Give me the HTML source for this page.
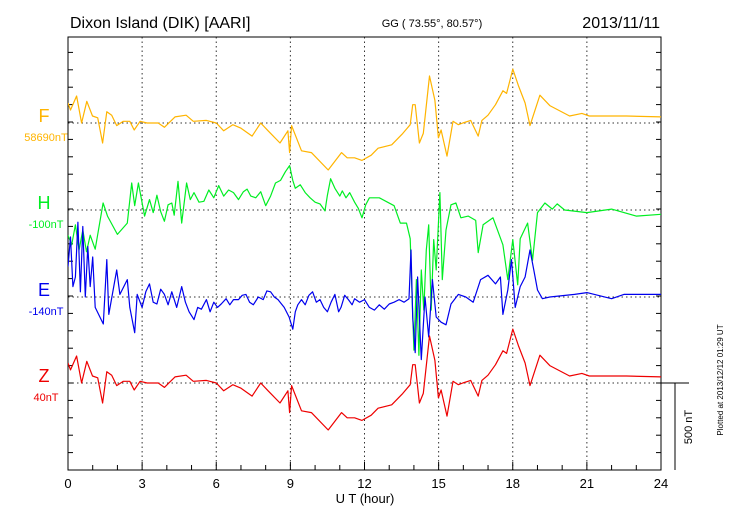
<!DOCTYPE html>
<html><head><meta charset="utf-8"><style>
html,body{margin:0;padding:0;background:#fff;}
svg{display:block;font-family:"Liberation Sans",sans-serif;}
</style></head><body>
<svg id="chart" width="730" height="520" viewBox="0 0 730 520" xmlns="http://www.w3.org/2000/svg">
<text x="70" y="28" font-size="16">Dixon Island (DIK)  [AARI]</text>
<text x="432" y="27" font-size="11" text-anchor="middle">GG ( 73.55°,  80.57°)</text>
<text x="660" y="28" font-size="16" text-anchor="end">2013/11/11</text>
<g id="grid"></g>
<g id="axes"></g>
<g id="series" clip-path="url(#clip)"></g>
<defs><clipPath id="clip"><rect x="68" y="37" width="593" height="433"/></clipPath></defs>
<g id="labels"></g>
<text x="365" y="503" font-size="13" text-anchor="middle">U T (hour)</text>
<text transform="translate(692,427) rotate(-90)" font-size="11" text-anchor="middle">500 nT</text>
<text transform="translate(723,380) rotate(-90)" font-size="8" text-anchor="middle">Plotted at 2013/12/12 01:29 UT</text>
</svg>
<script>
const xTicks = [0,3,6,9,12,15,18,21,24];
const componentNames = ["F","H","E","Z"];
const baselineLabels = ["58690nT","-100nT","-140nT","40nT"];
const scaleBarNT = 500;

const zHours = [0,0.1,0.35,0.55,0.76,0.99,1.2,1.4,1.57,1.77,1.97,2.24,2.5,2.68,2.92,3.2,3.65,3.9,4.33,4.78,5.07,5.6,6.0,6.3,6.67,7.0,7.45,7.8,8.1,8.58,8.9,8.97,9.05,9.45,9.85,10.53,11.07,11.3,11.6,11.9,12.27,12.55,13.1,13.55,13.85,13.95,14.05,14.22,14.38,14.63,14.85,14.99,15.1,15.34,15.58,15.8,15.98,16.3,16.6,16.75,17.0,17.3,17.6,17.75,18.0,18.23,18.5,18.7,19.1,19.5,20.3,20.8,21.1,22.6,24];
const zValues = [115,75,155,0,125,40,30,-115,65,45,-15,10,10,-40,10,0,0,-25,35,45,10,15,0,-45,-10,-30,-75,0,-45,-115,-45,-170,-15,-160,-170,-270,-170,-200,-200,-215,-185,-145,-125,-60,-10,105,105,-115,-60,270,130,-85,-40,-190,10,-10,0,15,-75,15,45,105,185,170,310,215,115,-15,160,100,40,55,40,40,35];
const fHours = zHours.slice();
const fValues = [115,75,155,0,125,40,30,-115,65,45,-15,10,10,-40,10,0,0,-25,35,45,10,15,0,-45,-10,-30,-75,0,-45,-115,-45,-170,-15,-160,-170,-270,-170,-200,-200,-215,-185,-145,-125,-60,-10,105,105,-115,-60,270,130,-85,-40,-190,10,-10,0,15,-75,15,45,105,185,170,310,215,115,-15,160,100,40,55,40,40,35];
const hHours = [0,0.15,0.3,0.45,0.6,0.75,0.9,1.1,1.42,1.6,2.0,2.4,2.58,2.7,2.85,
3.1,3.3,3.45,3.6,3.75,3.9,4.05,4.2,4.3,4.45,4.6,4.8,4.95,5.1,5.3,5.5,5.7,5.9,6.1,6.3,6.5,6.7,6.9,7.1,7.25,7.4,7.6,7.8,8.0,8.2,8.4,8.6,8.8,8.97,9.1,9.2,9.4,9.6,9.8,10.0,10.2,10.4,10.5,10.63,10.8,11.0,11.1,11.25,11.4,11.6,11.75,11.9,12.05,12.2,
12.6,13.2,13.45,13.7,13.85,14.0,14.1,14.2,14.3,14.4,14.5,14.6,14.7,14.8,14.9,15.05,15.15,15.3,15.5,15.7,15.9,16.2,16.5,16.6,16.8,17.2,17.6,17.8,18.0,18.2,18.3,18.6,18.8,19.0,19.3,19.6,19.8,20.1,21,22,23,24];
const hValues = [-145,-200,-85,-230,-115,-240,-145,-225,40,-35,-140,-75,155,25,155,
-35,60,-15,85,-10,-65,30,40,-30,165,-75,155,60,100,45,50,115,70,140,80,115,100,60,105,120,80,70,105,25,80,155,170,220,255,170,125,145,100,70,45,35,-5,85,180,125,80,110,70,100,45,10,-45,30,70,
70,25,-75,-75,-165,-805,-400,-835,-345,-575,-230,-85,-575,-170,-345,100,-400,-115,30,40,-45,-35,-60,-245,-85,-45,-200,-400,-170,-430,-165,-75,-290,-15,40,5,35,0,-15,5,-35,-25];
const eHours = [0,0.1,0.2,0.3,0.4,0.5,0.6,0.7,0.8,0.9,1.0,1.1,1.43,1.57,1.65,1.97,2.1,2.4,2.5,2.7,2.8,
3.0,3.15,3.3,3.45,3.6,3.75,3.9,4.05,4.2,4.4,4.6,4.75,4.9,5.1,5.25,5.4,5.6,5.75,5.9,6.05,6.2,6.4,6.55,6.7,6.9,7.05,7.2,7.35,7.5,7.7,7.9,8.05,8.2,8.35,8.5,8.75,8.95,9.1,9.2,9.3,9.45,9.6,9.75,9.9,10.05,10.2,10.35,10.5,10.65,10.8,10.95,11.05,11.2,11.35,11.5,11.6,11.8,12.0,12.2,12.4,12.6,12.8,13.0,13.2,13.4,13.6,13.8,
13.88,13.95,14.05,14.15,14.3,14.45,14.6,14.75,14.9,15.1,15.3,15.5,15.8,16.1,16.4,16.7,17.0,17.3,17.5,17.6,17.8,17.95,18.1,18.3,18.5,18.7,18.85,19.0,19.2,19.5,20.5,21,22,22.5,24];
const eValues = [175,345,60,115,430,30,405,0,290,60,230,-60,-155,215,-100,155,15,100,-60,-205,15,
-60,30,75,-30,-40,45,15,-45,30,-60,60,-30,-85,-130,-60,-70,-15,-85,-30,-60,-40,-10,-45,-15,-15,10,15,-30,-45,0,-15,35,30,0,-15,-60,-115,-185,-85,-45,-15,-45,10,30,-30,-15,-60,-85,-30,15,-85,-60,10,-15,-45,-10,-30,-15,-60,-75,-45,-70,-40,-30,-15,-30,-10,
270,-115,-320,115,-360,0,-230,100,-115,-145,-160,-40,15,0,-30,100,125,75,115,-100,40,215,-60,60,115,270,155,40,-10,0,15,25,-10,15,15];

const X0=68, X1=661, Y0=37, Y1=470;
const baselines=[123,210,297,383];
const colors=["#ffb400","#00ee22","#0000ee","#ee0000"];
const pxPerNT = (Y1-383)/scaleBarNT;
function xScale(h){return X0+(X1-X0)*h/24;}
function yScale(v,i){return baselines[i]-v*pxPerNT;}
const NS="http://www.w3.org/2000/svg";
function mk(tag,attrs,parent){const e=document.createElementNS(NS,tag);for(const k in attrs)e.setAttribute(k,attrs[k]);parent.appendChild(e);return e;}

const grid=document.getElementById('grid');
xTicks.forEach(t=>{ if(t>0&&t<24){const l=mk('line',{x1:xScale(t),x2:xScale(t),y1:Y0,y2:Y1,stroke:'#333','stroke-width':1,'stroke-dasharray':'1.5,3'},grid);

}});
baselines.forEach(b=>{const l=mk('line',{x1:X0,x2:X1,y1:b,y2:b,stroke:'#333','stroke-width':1,'stroke-dasharray':'1.5,3'},grid);

});

const axes=document.getElementById('axes');
const frame=mk('rect',{x:X0,y:Y0,width:X1-X0,height:Y1-Y0,fill:'none',stroke:'#000','stroke-width':1},axes);


for(let y=Y1; y>=Y0; y-=100*pxPerNT){
  mk('line',{x1:X0,x2:X0+5,y1:y,y2:y,stroke:'#000'},axes);
  mk('line',{x1:X1-5,x2:X1,y1:y,y2:y,stroke:'#000'},axes);
}
for(let h=0;h<=24;h++){
  const len = h%3===0?8:5;
  mk('line',{x1:xScale(h),x2:xScale(h),y1:Y1,y2:Y1-len,stroke:'#000'},axes);
}
xTicks.forEach(t=>{const tx=mk('text',{x:xScale(t),y:488,'font-size':13,'text-anchor':'middle'},axes);tx.textContent=t;

});
const sb=mk('path',{d:`M${X1} 383 H689 M675 383 V${Y1}`,stroke:'#000',fill:'none'},axes);



const labels=document.getElementById('labels');
componentNames.forEach((n,i)=>{
  const t=mk('text',{x:44,y:baselines[i]-1,'font-size':18,fill:colors[i],'text-anchor':'middle'},labels);t.textContent=n;
  
  
  const b=mk('text',{x:46,y:baselines[i]+18,'font-size':11,fill:colors[i],'text-anchor':'middle'},labels);b.textContent=baselineLabels[i];
  
  
});

const series=document.getElementById('series');
const sets=[[fHours,fValues,0,'f'],[hHours,hValues,1,'h'],[eHours,eValues,2,'e'],[zHours,zValues,3,'z']];
sets.forEach(([hs,vs,i,n])=>{
  const d=hs.map((h,k)=>(k?'L':'M')+xScale(h).toFixed(1)+' '+yScale(vs[k],i).toFixed(1)).join(' ');
  const p=mk('path',{d:d,fill:'none',stroke:colors[i],'stroke-width':1.2,'stroke-linejoin':'round'},series);
  
  
});
</script>
</body></html>
